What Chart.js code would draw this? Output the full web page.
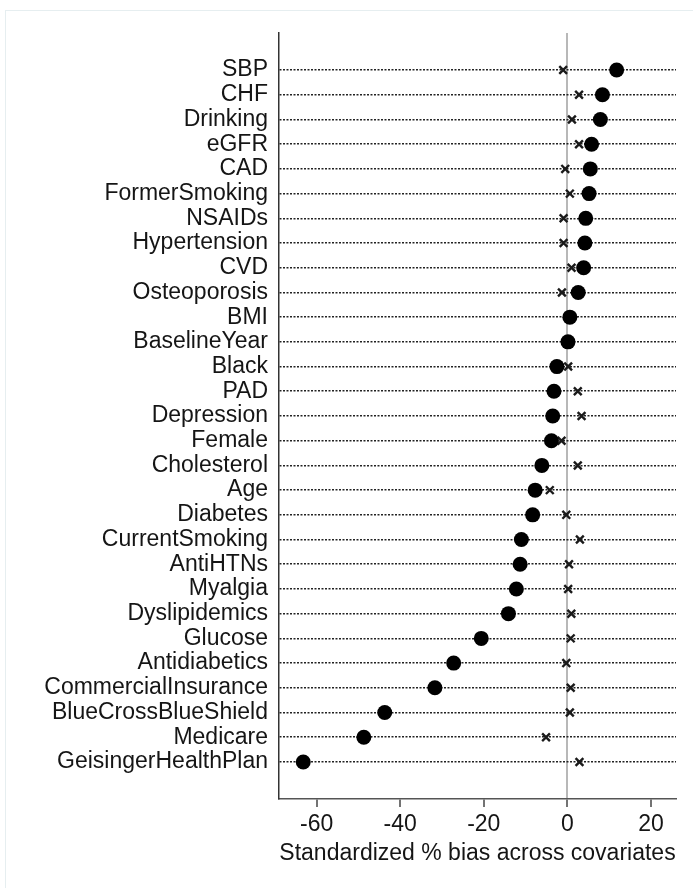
<!DOCTYPE html>
<html>
<head>
<meta charset="utf-8">
<script src="https://cdn.jsdelivr.net/npm/chart.js@4"></script>
<style>
  html, body { margin: 0; padding: 0; background: #fff; }
  #frame { position: absolute; left: 5px; top: 10px; width: 700px; height: 900px; border: 1px solid #e6eef0; box-sizing: border-box; }
  #wrap { position: absolute; left: 0; top: 0; width: 693px; height: 888px; }
</style>
</head>
<body>
<div id="frame"></div>
<div id="wrap"><canvas id="chart" width="693" height="888"></canvas></div>
<script>
// covariates, top to bottom
const covariates = ['SBP', 'CHF', 'Drinking', 'eGFR', 'CAD', 'FormerSmoking', 'NSAIDs', 'Hypertension',
    'CVD', 'Osteoporosis', 'BMI', 'BaselineYear', 'Black', 'PAD', 'Depression', 'Female', 'Cholesterol',
    'Age', 'Diabetes', 'CurrentSmoking', 'AntiHTNs', 'Myalgia', 'Dyslipidemics', 'Glucose', 'Antidiabetics',
    'CommercialInsurance', 'BlueCrossBlueShield', 'Medicare', 'GeisingerHealthPlan'];

// standardized % bias before matching (filled circles)
const unmatched = [11.8, 8.4, 7.9, 5.8, 5.5, 5.2, 4.4, 4.2, 3.9, 2.6, 0.6, 0.15, -2.5, -3.2, -3.5, -3.8, -6.1,
    -7.7, -8.3, -11.0, -11.3, -12.2, -14.1, -20.6, -27.2, -31.7, -43.7, -48.7, -63.2];

// after matching (x markers)
const matched = [-1.0, 2.8, 1.1, 2.8, -0.5, 0.6, -0.9, -0.9, 1.0, -1.3, 0.5, 0.0, 0.2, 2.5, 3.4, -1.4, 2.5,
    -4.2, -0.25, 3.0, 0.4, 0.2, 0.95, 0.8, -0.25, 0.8, 0.6, -5.1, 2.9];

const xTicks = [-60, -40, -20, 0, 20];

const textColor = '#151515';
const font = { family: '"Liberation Sans", Arial, sans-serif', size: 23 };

const ctx = document.getElementById('chart').getContext('2d');
new Chart(ctx, {
    type: 'scatter',
    data: {
        datasets: [{
            label: 'Unmatched',
            data: unmatched.map((v, i) => ({ x: v, y: i })),
            pointStyle: 'circle',
            pointRadius: 7.5,
            backgroundColor: '#000',
            borderColor: '#000',
            borderWidth: 0
        }, {
            label: 'Matched',
            data: matched.map((v, i) => ({ x: v, y: i })),
            pointStyle: 'crossRot',
            pointRadius: 5.5,
            borderColor: '#1a1a1a',
            borderWidth: 2.4
        }]
    },
    options: {
        responsive: false,
        animation: false,
        events: [],
        layout: { padding: { top: 33, right: 17, bottom: 0, left: 0 } },
        plugins: {
            legend: { display: false },
            tooltip: { enabled: false }
        },
        scales: {
            x: {
                type: 'linear',
                min: -69,
                max: 26,
                afterBuildTicks: (scale) => { scale.ticks = xTicks.map(v => ({ value: v })); },
                afterFit: (scale) => { scale.height = 89; },
                grid: {
                    color: (c) => c.tick && c.tick.value === 0 ? '#b8b8b8' : 'rgba(0,0,0,0)',
                    lineWidth: 2,
                    drawTicks: true,
                    tickLength: 8,
                    tickColor: '#444',
                    tickWidth: 1.5
                },
                border: { display: true, color: '#555', width: 1.5 },
                ticks: { color: textColor, font: font, padding: 4, maxRotation: 0 },
                title: {
                    display: true,
                    text: 'Standardized % bias across covariates',
                    color: textColor,
                    font: font,
                    padding: { top: 0, bottom: 21 }
                }
            },
            y: {
                type: 'linear',
                reverse: true,
                min: -1.5,
                max: covariates.length + 0.5,
                afterBuildTicks: (scale) => { scale.ticks = covariates.map((_, i) => ({ value: i })); },
                afterFit: (scale) => { scale.width = 279; },
                grid: {
                    color: '#222',
                    lineWidth: 1.6,
                    drawTicks: false
                },
                border: { display: true, color: '#333', width: 1.5, dash: [2, 1.5] },
                ticks: {
                    color: textColor,
                    font: font,
                    padding: 11,
                    autoSkip: false,
                    callback: (v) => covariates[v]
                }
            }
        }
    }
});
</script>
</body>
</html>
